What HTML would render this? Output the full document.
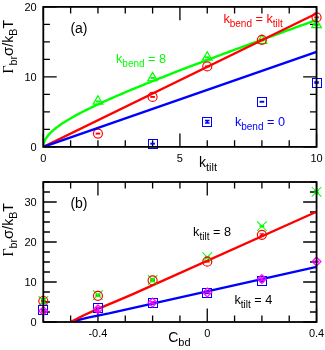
<!DOCTYPE html><html><head><meta charset="utf-8"><style>html,body{margin:0;padding:0;background:#fff}svg{display:block;will-change:transform}</style></head><body><svg width="325" height="350" viewBox="0 0 325 350"><rect width="325" height="350" fill="#fff"/><defs><clipPath id="ca"><rect x="43.3" y="6.9" width="273.25" height="140.0"/></clipPath><clipPath id="cb"><rect x="43.3" y="182.0" width="273.25" height="140.0"/></clipPath></defs><path d="M43.30 146.90L43.30 133.50M43.30 6.90L43.30 20.30M179.93 146.90L179.93 133.50M179.93 6.90L179.93 20.30M316.55 146.90L316.55 133.50M316.55 6.90L316.55 20.30" stroke="#000000" stroke-width="1.3" fill="none"/><path d="M70.62 146.90L70.62 140.30M70.62 6.90L70.62 13.50M97.95 146.90L97.95 140.30M97.95 6.90L97.95 13.50M125.27 146.90L125.27 140.30M125.27 6.90L125.27 13.50M152.60 146.90L152.60 140.30M152.60 6.90L152.60 13.50M207.25 146.90L207.25 140.30M207.25 6.90L207.25 13.50M234.57 146.90L234.57 140.30M234.57 6.90L234.57 13.50M261.90 146.90L261.90 140.30M261.90 6.90L261.90 13.50M289.23 146.90L289.23 140.30M289.23 6.90L289.23 13.50" stroke="#000000" stroke-width="1.3" fill="none"/><path d="M43.30 146.90L56.70 146.90M316.55 146.90L303.15 146.90M43.30 76.90L56.70 76.90M316.55 76.90L303.15 76.90M43.30 6.90L56.70 6.90M316.55 6.90L303.15 6.90" stroke="#000000" stroke-width="1.3" fill="none"/><path d="M43.30 129.40L49.90 129.40M316.55 129.40L309.95 129.40M43.30 111.90L49.90 111.90M316.55 111.90L309.95 111.90M43.30 94.40L49.90 94.40M316.55 94.40L309.95 94.40M43.30 59.40L49.90 59.40M316.55 59.40L309.95 59.40M43.30 41.90L49.90 41.90M316.55 41.90L309.95 41.90M43.30 24.40L49.90 24.40M316.55 24.40L309.95 24.40" stroke="#000000" stroke-width="1.3" fill="none"/><path d="M97.95 322.00L97.95 308.60M97.95 182.00L97.95 195.40M207.25 322.00L207.25 308.60M207.25 182.00L207.25 195.40M316.55 322.00L316.55 308.60M316.55 182.00L316.55 195.40" stroke="#000000" stroke-width="1.3" fill="none"/><path d="M43.30 322.00L43.30 315.40M43.30 182.00L43.30 188.60M70.62 322.00L70.62 315.40M70.62 182.00L70.62 188.60M125.27 322.00L125.27 315.40M125.27 182.00L125.27 188.60M152.60 322.00L152.60 315.40M152.60 182.00L152.60 188.60M179.93 322.00L179.93 315.40M179.93 182.00L179.93 188.60M234.57 322.00L234.57 315.40M234.57 182.00L234.57 188.60M261.90 322.00L261.90 315.40M261.90 182.00L261.90 188.60M289.22 322.00L289.22 315.40M289.22 182.00L289.22 188.60" stroke="#000000" stroke-width="1.3" fill="none"/><path d="M43.30 322.00L56.70 322.00M316.55 322.00L303.15 322.00M43.30 282.00L56.70 282.00M316.55 282.00L303.15 282.00M43.30 242.00L56.70 242.00M316.55 242.00L303.15 242.00M43.30 202.00L56.70 202.00M316.55 202.00L303.15 202.00" stroke="#000000" stroke-width="1.3" fill="none"/><path d="M43.30 312.00L49.90 312.00M316.55 312.00L309.95 312.00M43.30 302.00L49.90 302.00M316.55 302.00L309.95 302.00M43.30 292.00L49.90 292.00M316.55 292.00L309.95 292.00M43.30 272.00L49.90 272.00M316.55 272.00L309.95 272.00M43.30 262.00L49.90 262.00M316.55 262.00L309.95 262.00M43.30 252.00L49.90 252.00M316.55 252.00L309.95 252.00M43.30 232.00L49.90 232.00M316.55 232.00L309.95 232.00M43.30 222.00L49.90 222.00M316.55 222.00L309.95 222.00M43.30 212.00L49.90 212.00M316.55 212.00L309.95 212.00M43.30 192.00L49.90 192.00M316.55 192.00L309.95 192.00M43.30 182.00L49.90 182.00M316.55 182.00L309.95 182.00" stroke="#000000" stroke-width="1.3" fill="none"/><g clip-path="url(#ca)"><path d="M43.30 146.90L43.31 146.47L43.33 146.05L43.36 145.62L43.41 145.19L43.47 144.77L43.55 144.34L43.63 143.91L43.74 143.48L43.85 143.06L43.98 142.63L44.13 142.20L44.28 141.77L44.45 141.34L44.64 140.91L44.84 140.48L45.05 140.05L45.27 139.62L45.51 139.19L45.77 138.75L46.03 138.32L46.31 137.88L46.61 137.45L46.91 137.01L47.23 136.57L47.57 136.14L47.92 135.70L48.28 135.26L48.66 134.82L49.05 134.37L49.45 133.93L49.86 133.49L50.30 133.04L50.74 132.59L51.20 132.15L51.67 131.70L52.15 131.25L52.65 130.79L53.16 130.34L53.69 129.89L54.23 129.43L54.78 128.97L55.35 128.51L55.93 128.05L56.53 127.59L57.13 127.12L57.75 126.66L58.39 126.19L59.04 125.72L59.70 125.25L60.38 124.78L61.07 124.30L61.77 123.83L62.49 123.35L63.22 122.87L63.96 122.39L64.72 121.90L65.49 121.42L66.28 120.93L67.08 120.44L67.89 119.94L68.72 119.45L69.56 118.95L70.41 118.45L71.28 117.95L72.16 117.45L73.06 116.94L73.97 116.43L74.89 115.92L75.82 115.41L76.77 114.90L77.74 114.38L78.71 113.86L79.70 113.34L80.71 112.81L81.73 112.28L82.76 111.75L83.80 111.22L84.86 110.68L85.93 110.15L87.02 109.61L88.12 109.06L89.23 108.52L90.36 107.97L91.50 107.41L92.66 106.86L93.82 106.30L95.01 105.74L96.20 105.18L97.41 104.61L98.63 104.04L99.87 103.47L101.12 102.90L102.38 102.32L103.66 101.74L104.95 101.16L106.26 100.57L107.58 99.98L108.91 99.39L110.25 98.79L111.61 98.19L112.99 97.59L114.37 96.98L115.77 96.38L117.19 95.76L118.61 95.15L120.06 94.53L121.51 93.91L122.98 93.28L124.46 92.66L125.96 92.02L127.47 91.39L128.99 90.75L130.53 90.11L132.08 89.46L133.64 88.82L135.22 88.16L136.81 87.51L138.42 86.85L140.04 86.19L141.67 85.52L143.32 84.85L144.98 84.18L146.65 83.51L148.34 82.83L150.04 82.14L151.75 81.46L153.48 80.77L155.22 80.07L156.98 79.37L158.75 78.67L160.53 77.97L162.33 77.26L164.14 76.55L165.96 75.83L167.80 75.11L169.65 74.39L171.52 73.66L173.39 72.93L175.29 72.20L177.19 71.46L179.11 70.72L181.05 69.97L182.99 69.22L184.95 68.47L186.93 67.71L188.91 66.95L190.92 66.18L192.93 65.42L194.96 64.64L197.00 63.87L199.06 63.09L201.13 62.30L203.21 61.51L205.31 60.72L207.42 59.93L209.55 59.13L211.68 58.32L213.84 57.51L216.00 56.70L218.18 55.89L220.37 55.07L222.58 54.24L224.80 53.41L227.03 52.58L229.28 51.75L231.54 50.91L233.82 50.06L236.11 49.21L238.41 48.36L240.72 47.51L243.05 46.65L245.40 45.78L247.75 44.91L250.12 44.04L252.51 43.16L254.90 42.28L257.32 41.40L259.74 40.51L262.18 39.62L264.63 38.72L267.10 37.82L269.58 36.91L272.07 36.00L274.58 35.09L277.10 34.17L279.63 33.25L282.18 32.32L284.74 31.39L287.32 30.46L289.91 29.52L292.51 28.57L295.13 27.63L297.76 26.67L300.40 25.72L303.06 24.76L305.73 23.79L308.41 22.82L311.11 21.85L313.82 20.87L316.55 19.89" fill="none" stroke="#00ff00" stroke-width="2.4" stroke-linejoin="round"/></g><path d="M95.65 101.40L100.25 101.40" fill="none" stroke="#00ff00" stroke-width="1.9"/><path d="M97.95 95.80L102.80 104.20L93.10 104.20Z" fill="none" stroke="#00ff00" stroke-width="1.2"/><path d="M150.30 77.95L154.90 77.95" fill="none" stroke="#00ff00" stroke-width="1.9"/><path d="M152.60 72.35L157.45 80.75L147.75 80.75Z" fill="none" stroke="#00ff00" stroke-width="1.2"/><path d="M204.95 57.30L209.55 57.30" fill="none" stroke="#00ff00" stroke-width="1.9"/><path d="M207.25 51.70L212.10 60.10L202.40 60.10Z" fill="none" stroke="#00ff00" stroke-width="1.2"/><path d="M259.60 40.50L264.20 40.50" fill="none" stroke="#00ff00" stroke-width="1.9"/><path d="M261.90 34.90L266.75 43.30L257.05 43.30Z" fill="none" stroke="#00ff00" stroke-width="1.2"/><path d="M314.25 24.89L318.85 24.89" fill="none" stroke="#00ff00" stroke-width="1.9"/><path d="M316.55 19.29L321.40 27.69L311.70 27.69Z" fill="none" stroke="#00ff00" stroke-width="1.2"/><g clip-path="url(#ca)"><path d="M43.30 146.90L316.55 13.48" stroke="#ff0000" stroke-width="2.4"/></g><path d="M95.65 133.60L100.25 133.60" fill="none" stroke="#ff0000" stroke-width="1.9"/><circle cx="97.95" cy="133.60" r="4.5" fill="none" stroke="#ff0000" stroke-width="1.15"/><path d="M150.30 96.92L154.90 96.92" fill="none" stroke="#ff0000" stroke-width="1.9"/><circle cx="152.60" cy="96.92" r="4.5" fill="none" stroke="#ff0000" stroke-width="1.15"/><path d="M204.95 66.40L209.55 66.40" fill="none" stroke="#ff0000" stroke-width="1.9"/><circle cx="207.25" cy="66.40" r="4.5" fill="none" stroke="#ff0000" stroke-width="1.15"/><path d="M259.60 39.80L264.20 39.80" fill="none" stroke="#ff0000" stroke-width="1.9"/><circle cx="261.90" cy="39.80" r="4.5" fill="none" stroke="#ff0000" stroke-width="1.15"/><path d="M314.25 17.40L318.85 17.40" fill="none" stroke="#ff0000" stroke-width="1.9"/><circle cx="316.55" cy="17.40" r="4.5" fill="none" stroke="#ff0000" stroke-width="1.15"/><g clip-path="url(#ca)"><path d="M43.30 146.90L316.55 51.91" stroke="#0000ff" stroke-width="2.4"/></g><path d="M150.30 143.68L154.90 143.68" fill="none" stroke="#0000ff" stroke-width="1.9"/><rect x="148.50" y="139.50" width="9.0" height="9.0" fill="none" stroke="#0000ff" stroke-width="1.0"/><path d="M204.95 120.45L209.55 120.45M204.95 122.95L209.55 122.95" fill="none" stroke="#0000ff" stroke-width="1.4"/><path d="M207.25 120.45L207.25 122.95" fill="none" stroke="#0000ff" stroke-width="2.0"/><rect x="202.50" y="117.50" width="9.0" height="9.0" fill="none" stroke="#0000ff" stroke-width="1.0"/><path d="M259.60 101.75L264.20 101.75" fill="none" stroke="#0000ff" stroke-width="1.9"/><rect x="257.50" y="97.50" width="9.0" height="9.0" fill="none" stroke="#0000ff" stroke-width="1.0"/><path d="M314.25 82.07L318.85 82.07M314.25 83.07L318.85 83.07" fill="none" stroke="#0000ff" stroke-width="1.4"/><path d="M316.55 82.07L316.55 83.07" fill="none" stroke="#0000ff" stroke-width="2.0"/><rect x="312.50" y="78.50" width="9.0" height="9.0" fill="none" stroke="#0000ff" stroke-width="1.0"/><g clip-path="url(#cb)"><path d="M70.62 322.00L87.84 317.60L108.88 313.44L316.55 266.88" fill="none" stroke="#0000ff" stroke-width="2.4" stroke-linejoin="round"/><path d="M70.62 322.00L83.85 315.28L97.95 308.92L117.08 300.80L133.47 293.84L316.55 211.76" fill="none" stroke="#ff0000" stroke-width="2.4" stroke-linejoin="round"/></g><path d="M41.00 300.50L45.60 300.50M41.00 301.50L45.60 301.50" fill="none" stroke="#ff0000" stroke-width="1.4"/><path d="M43.30 300.50L43.30 301.50" fill="none" stroke="#ff0000" stroke-width="2.0"/><path d="M95.65 295.30L100.25 295.30M95.65 296.30L100.25 296.30" fill="none" stroke="#ff0000" stroke-width="1.4"/><path d="M97.95 295.30L97.95 296.30" fill="none" stroke="#ff0000" stroke-width="2.0"/><path d="M150.30 279.90L154.90 279.90M150.30 280.90L154.90 280.90" fill="none" stroke="#ff0000" stroke-width="1.4"/><path d="M152.60 279.90L152.60 280.90" fill="none" stroke="#ff0000" stroke-width="2.0"/><path d="M204.95 261.68L209.55 261.68" fill="none" stroke="#ff0000" stroke-width="1.9"/><path d="M259.60 233.90L264.20 233.90M259.60 235.70L264.20 235.70" fill="none" stroke="#ff0000" stroke-width="1.4"/><path d="M261.90 233.90L261.90 235.70" fill="none" stroke="#ff0000" stroke-width="2.0"/><path d="M41.00 298.40L45.60 298.40M41.00 303.60L45.60 303.60" fill="none" stroke="#00ff00" stroke-width="1.4"/><path d="M43.30 298.40L43.30 303.60" fill="none" stroke="#00ff00" stroke-width="2.0"/><path d="M38.50 296.20L48.10 305.80M38.50 305.80L48.10 296.20" fill="none" stroke="#00ff00" stroke-width="1.05"/><path d="M95.65 294.20L100.25 294.20M95.65 296.20L100.25 296.20" fill="none" stroke="#00ff00" stroke-width="1.4"/><path d="M97.95 294.20L97.95 296.20" fill="none" stroke="#00ff00" stroke-width="2.0"/><path d="M93.15 290.40L102.75 300.00M93.15 300.00L102.75 290.40" fill="none" stroke="#00ff00" stroke-width="1.05"/><path d="M150.30 278.50L154.90 278.50M150.30 281.50L154.90 281.50" fill="none" stroke="#00ff00" stroke-width="1.4"/><path d="M152.60 278.50L152.60 281.50" fill="none" stroke="#00ff00" stroke-width="2.0"/><path d="M147.80 275.20L157.40 284.80M147.80 284.80L157.40 275.20" fill="none" stroke="#00ff00" stroke-width="1.05"/><path d="M204.95 256.70L209.55 256.70M204.95 257.70L209.55 257.70" fill="none" stroke="#00ff00" stroke-width="1.4"/><path d="M207.25 256.70L207.25 257.70" fill="none" stroke="#00ff00" stroke-width="2.0"/><path d="M202.45 252.40L212.05 262.00M202.45 262.00L212.05 252.40" fill="none" stroke="#00ff00" stroke-width="1.05"/><path d="M259.60 225.70L264.20 225.70M259.60 226.70L264.20 226.70" fill="none" stroke="#00ff00" stroke-width="1.4"/><path d="M261.90 225.70L261.90 226.70" fill="none" stroke="#00ff00" stroke-width="2.0"/><path d="M257.10 221.40L266.70 231.00M257.10 231.00L266.70 221.40" fill="none" stroke="#00ff00" stroke-width="1.05"/><path d="M314.25 190.80L318.85 190.80M314.25 192.80L318.85 192.80" fill="none" stroke="#00ff00" stroke-width="1.4"/><path d="M316.55 190.80L316.55 192.80" fill="none" stroke="#00ff00" stroke-width="2.0"/><path d="M311.75 187.00L321.35 196.60M311.75 196.60L321.35 187.00" fill="none" stroke="#00ff00" stroke-width="1.05"/><circle cx="43.30" cy="301.00" r="4.5" fill="none" stroke="#ff0000" stroke-width="1.15"/><circle cx="97.95" cy="295.80" r="4.5" fill="none" stroke="#ff0000" stroke-width="1.15"/><circle cx="152.60" cy="280.40" r="4.5" fill="none" stroke="#ff0000" stroke-width="1.15"/><circle cx="207.25" cy="261.68" r="4.5" fill="none" stroke="#ff0000" stroke-width="1.15"/><circle cx="261.90" cy="234.80" r="4.5" fill="none" stroke="#ff0000" stroke-width="1.15"/><path d="M41.00 310.20L45.60 310.20" fill="none" stroke="#0000ff" stroke-width="1.9"/><rect x="38.50" y="305.50" width="9.0" height="9.0" fill="none" stroke="#0000ff" stroke-width="1.0"/><path d="M95.65 308.08L100.25 308.08" fill="none" stroke="#0000ff" stroke-width="1.9"/><rect x="93.50" y="303.50" width="9.0" height="9.0" fill="none" stroke="#0000ff" stroke-width="1.0"/><path d="M150.30 303.40L154.90 303.40" fill="none" stroke="#0000ff" stroke-width="1.9"/><rect x="148.50" y="298.50" width="9.0" height="9.0" fill="none" stroke="#0000ff" stroke-width="1.0"/><path d="M204.95 293.20L209.55 293.20" fill="none" stroke="#0000ff" stroke-width="1.9"/><rect x="202.50" y="288.50" width="9.0" height="9.0" fill="none" stroke="#0000ff" stroke-width="1.0"/><path d="M259.60 281.40L264.20 281.40" fill="none" stroke="#0000ff" stroke-width="1.9"/><rect x="257.50" y="276.50" width="9.0" height="9.0" fill="none" stroke="#0000ff" stroke-width="1.0"/><path d="M41.00 310.20L45.60 310.20M41.00 311.80L45.60 311.80" fill="none" stroke="#ff00ff" stroke-width="1.4"/><path d="M43.30 310.20L43.30 311.80" fill="none" stroke="#ff00ff" stroke-width="2.0"/><path d="M43.30 306.60L47.70 311.00L43.30 315.40L38.90 311.00Z" fill="none" stroke="#ff00ff" stroke-width="1.2"/><path d="M95.65 307.20L100.25 307.20M95.65 311.20L100.25 311.20" fill="none" stroke="#ff00ff" stroke-width="1.4"/><path d="M97.95 307.20L97.95 311.20" fill="none" stroke="#ff00ff" stroke-width="2.0"/><path d="M97.95 304.80L102.35 309.20L97.95 313.60L93.55 309.20Z" fill="none" stroke="#ff00ff" stroke-width="1.2"/><path d="M150.30 301.60L154.90 301.60M150.30 303.60L154.90 303.60" fill="none" stroke="#ff00ff" stroke-width="1.4"/><path d="M152.60 301.60L152.60 303.60" fill="none" stroke="#ff00ff" stroke-width="2.0"/><path d="M152.60 298.20L157.00 302.60L152.60 307.00L148.20 302.60Z" fill="none" stroke="#ff00ff" stroke-width="1.2"/><path d="M204.95 292.40L209.55 292.40" fill="none" stroke="#ff00ff" stroke-width="1.9"/><path d="M207.25 288.00L211.65 292.40L207.25 296.80L202.85 292.40Z" fill="none" stroke="#ff00ff" stroke-width="1.2"/><path d="M259.60 277.88L264.20 277.88M259.60 280.28L264.20 280.28" fill="none" stroke="#ff00ff" stroke-width="1.4"/><path d="M261.90 277.88L261.90 280.28" fill="none" stroke="#ff00ff" stroke-width="2.0"/><path d="M261.90 274.68L266.30 279.08L261.90 283.48L257.50 279.08Z" fill="none" stroke="#ff00ff" stroke-width="1.2"/><path d="M314.25 261.20L318.85 261.20M314.25 262.00L318.85 262.00" fill="none" stroke="#ff00ff" stroke-width="1.4"/><path d="M316.55 261.20L316.55 262.00" fill="none" stroke="#ff00ff" stroke-width="2.0"/><path d="M316.55 257.20L320.95 261.60L316.55 266.00L312.15 261.60Z" fill="none" stroke="#ff00ff" stroke-width="1.2"/><rect x="43.3" y="6.9" width="273.25" height="140.0" fill="none" stroke="#000000" stroke-width="1.8"/><rect x="43.3" y="182.0" width="273.25" height="140.0" fill="none" stroke="#000000" stroke-width="1.8"/><text x="36.70" y="150.85" font-family="Liberation Sans, sans-serif" font-size="11" fill="#000000" text-anchor="end" >0</text><text x="36.70" y="80.85" font-family="Liberation Sans, sans-serif" font-size="11" fill="#000000" text-anchor="end" >10</text><text x="36.70" y="10.85" font-family="Liberation Sans, sans-serif" font-size="11" fill="#000000" text-anchor="end" >20</text><text x="36.70" y="325.95" font-family="Liberation Sans, sans-serif" font-size="11" fill="#000000" text-anchor="end" >0</text><text x="36.70" y="285.95" font-family="Liberation Sans, sans-serif" font-size="11" fill="#000000" text-anchor="end" >10</text><text x="36.70" y="245.95" font-family="Liberation Sans, sans-serif" font-size="11" fill="#000000" text-anchor="end" >20</text><text x="36.70" y="205.95" font-family="Liberation Sans, sans-serif" font-size="11" fill="#000000" text-anchor="end" >30</text><text x="43.30" y="162.10" font-family="Liberation Sans, sans-serif" font-size="11" fill="#000000" text-anchor="middle" >0</text><text x="179.93" y="162.10" font-family="Liberation Sans, sans-serif" font-size="11" fill="#000000" text-anchor="middle" >5</text><text x="316.55" y="162.10" font-family="Liberation Sans, sans-serif" font-size="11" fill="#000000" text-anchor="middle" >10</text><text x="97.95" y="337.10" font-family="Liberation Sans, sans-serif" font-size="11" fill="#000000" text-anchor="middle" >-0.4</text><text x="207.25" y="337.10" font-family="Liberation Sans, sans-serif" font-size="11" fill="#000000" text-anchor="middle" >0</text><text x="316.55" y="337.10" font-family="Liberation Sans, sans-serif" font-size="11" fill="#000000" text-anchor="middle" >0.4</text><text x="70.40" y="33.20" font-family="Liberation Sans, sans-serif" font-size="14" fill="#000000" text-anchor="start" >(a)</text><text x="70.40" y="208.20" font-family="Liberation Sans, sans-serif" font-size="14" fill="#000000" text-anchor="start" >(b)</text><text x="116.00" y="62.90" font-family="Liberation Sans, sans-serif" font-size="12.7" fill="#00ff00"><tspan>k</tspan><tspan dy="4.0" font-size="10">bend</tspan><tspan dy="-4.0" font-size="12.7"> = 8</tspan></text><text x="223.40" y="22.70" font-family="Liberation Sans, sans-serif" font-size="12.7" fill="#ff0000"><tspan>k</tspan><tspan dy="4.0" font-size="10">bend</tspan><tspan dy="-4.0" font-size="12.7"> = k</tspan><tspan dy="4.0" font-size="10">tilt</tspan></text><text x="234.90" y="125.90" font-family="Liberation Sans, sans-serif" font-size="12.7" fill="#0000ff"><tspan>k</tspan><tspan dy="4.0" font-size="10">bend</tspan><tspan dy="-4.0" font-size="12.7"> = 0</tspan></text><text x="193.10" y="235.80" font-family="Liberation Sans, sans-serif" font-size="12.7" fill="#000000"><tspan>k</tspan><tspan dy="4.0" font-size="10">tilt</tspan><tspan dy="-4.0" font-size="12.7"> = 8</tspan></text><text x="234.40" y="304.20" font-family="Liberation Sans, sans-serif" font-size="12.7" fill="#000000"><tspan>k</tspan><tspan dy="4.0" font-size="10">tilt</tspan><tspan dy="-4.0" font-size="12.7"> = 4</tspan></text><text x="199.00" y="166.80" font-family="Liberation Sans, sans-serif" font-size="14" fill="#000000"><tspan>k</tspan><tspan dy="4.0" font-size="11">tilt</tspan></text><text x="168.20" y="342.20" font-family="Liberation Sans, sans-serif" font-size="14" fill="#000000"><tspan>C</tspan><tspan dy="3.7" font-size="11">bd</tspan></text><g transform="translate(13,73.5) rotate(-90)"><text x="0" y="0" font-family="Liberation Sans, sans-serif" font-size="14" fill="#000000"><tspan font-family="Liberation Serif, serif" font-size="14">Γ</tspan><tspan dy="4" font-size="10.7">br</tspan><tspan dy="-4" font-size="15">σ</tspan><tspan font-size="14">/k</tspan><tspan dy="4" font-size="10.7">B</tspan><tspan dy="-4" font-size="14">T</tspan></text></g><g transform="translate(13,256.6) rotate(-90)"><text x="0" y="0" font-family="Liberation Sans, sans-serif" font-size="14" fill="#000000"><tspan font-family="Liberation Serif, serif" font-size="14">Γ</tspan><tspan dy="4" font-size="10.7">br</tspan><tspan dy="-4" font-size="15">σ</tspan><tspan font-size="14">/k</tspan><tspan dy="4" font-size="10.7">B</tspan><tspan dy="-4" font-size="14">T</tspan></text></g></svg></body></html>
